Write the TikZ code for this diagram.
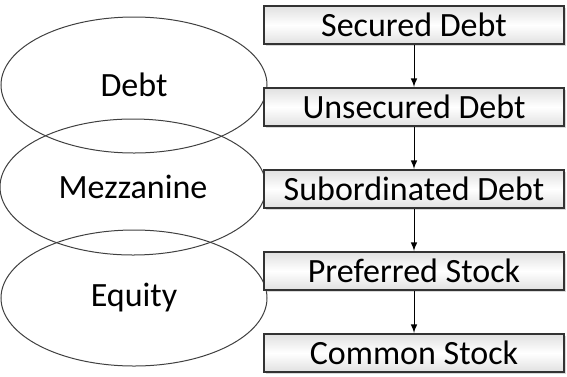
\documentclass[tikz,border=0pt]{standalone}
\usepackage{fontspec}
\setmainfont{Carlito}
\usetikzlibrary{positioning}
\usetikzlibrary{arrows}
\usetikzlibrary{shapes.geometric,shadows}

\begin{document}
\begin{tikzpicture}[x=0.5pt,y=0.5pt,
    tier/.style={draw=black!75, ellipse,
        line width=0.5pt,
        minimum width=133pt,
        minimum height=68pt,
        inner sep=0pt,
        font=\fontsize{17}{20}\selectfont},
    rank/.style={draw=black!80,
        line width=1pt,
        minimum width=150pt,
        minimum height=19pt,
        inner sep=0pt,
        top color=black!12, bottom color=black!12, middle color=white,
        drop shadow={shadow xshift=0.8pt, shadow yshift=-0.8pt, opacity=0.3},
        font=\fontsize{17}{20}\selectfont}]
\useasboundingbox (0,0) rectangle (567,-376);

% Capital layers
\node[tier] (debt) at (134,-85) {Debt};
\node[tier] (mezz) at (133,-187) {Mezzanine};
\node[tier] (equity) at (134,-298) {Equity};

% Priority ladder
\node[rank] (secured) at (414,-25) {Secured Debt};

\node[rank,
    below=21pt of secured
] (unsecured) {Unsecured Debt};

\node[rank,
    below=21pt of unsecured
] (subordinated) {Subordinated Debt};

\node[rank,
    below=21pt of subordinated
] (preferred) {Preferred Stock};

\node[rank,
    below=21pt of preferred
] (common) {Common Stock};

% Arrows
\draw[-latex, line width=0.5pt] (secured.south) -- (unsecured.north);
\draw[-latex, line width=0.5pt] (unsecured.south) -- (subordinated.north);
\draw[-latex, line width=0.5pt] (subordinated.south) -- (preferred.north);
\draw[-latex, line width=0.5pt] (preferred.south) -- (common.north);

\end{tikzpicture}
\end{document}
